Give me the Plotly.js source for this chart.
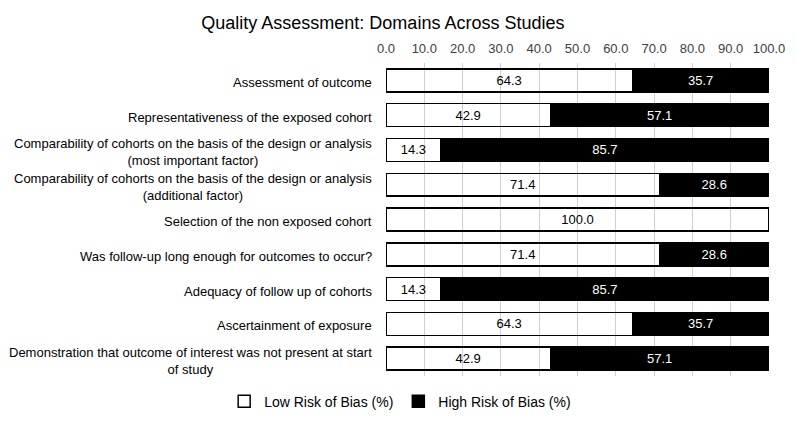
<!DOCTYPE html>
<html>
<head>
<meta charset="utf-8">
<script src="https://cdn.plot.ly/plotly-3.0.1.min.js"></script>
<style>html,body{margin:0;padding:0;background:#fff;}#chart{width:796px;height:430px;}</style>
</head>
<body>
<div id="chart"></div>
<script>
const categories = [
  "Assessment of outcome",
  "Representativeness of the exposed cohort",
  "Comparability of cohorts on the basis of the design or analysis<br>(most important factor)",
  "Comparability of cohorts on the basis of the design or analysis<br>(additional factor)",
  "Selection of the non exposed cohort",
  "Was follow-up long enough for outcomes to occur?",
  "Adequacy of follow up of cohorts",
  "Ascertainment of exposure",
  "Demonstration that outcome of interest was not present at start<br>of study"
];
const lowRisk  = [64.3, 42.9, 14.3, 71.4, 100.0, 71.4, 14.3, 64.3, 42.9];
const highRisk = [35.7, 57.1, 85.7, 28.6, 0.0, 28.6, 85.7, 35.7, 57.1];
const xTicks = [0,10,20,30,40,50,60,70,80,90,100];

const FONT = "'Liberation Sans', Arial, sans-serif";
const fmt = v => v > 0 ? v.toFixed(1) : "";

const traces = [
  {
    type: "bar", orientation: "h", name: "Low Risk of Bias (%)",
    y: categories, x: lowRisk,
    text: lowRisk.map(fmt), textposition: "inside", insidetextanchor: "middle",
    textfont: {family: FONT, size: 13, color: "#000"},
    marker: {color: "rgba(255,255,255,0)", line: {color: "#000", width: 1.5}},
    hoverinfo: "x+name"
  },
  {
    type: "bar", orientation: "h", name: "High Risk of Bias (%)",
    y: categories, x: highRisk,
    text: highRisk.map(fmt), textposition: "inside", insidetextanchor: "middle",
    textfont: {family: FONT, size: 13, color: "#fff"},
    marker: {color: "#000", line: {color: "#000", width: 1.5}},
    hoverinfo: "x+name"
  }
];

const annotations = categories.map(c => ({
  xref: "paper", yref: "y", x: -0.031, y: c,
  xanchor: "right", yanchor: "middle", align: "center",
  text: c, showarrow: false, yshift: -2,
  font: {family: FONT, size: 13, color: "#000"}
}));

const layout = {
  width: 796, height: 430,
  margin: {l: 386, r: 27, t: 63, b: 46},
  paper_bgcolor: "#fff", plot_bgcolor: "#fff",
  barmode: "stack", bargap: 0.34,
  title: {text: "Quality Assessment: Domains Across Studies", x: 0.481, xanchor: "center", y: 0.948, yanchor: "middle",
          font: {family: FONT, size: 18, color: "#000"}},
  xaxis: {
    side: "top", range: [0, 100], tickvals: xTicks, ticktext: xTicks.map(v => v.toFixed(1)),
    showgrid: true, gridcolor: "#cfcfcf", gridwidth: 1, zeroline: false, showline: false,
    ticks: "", ticklabelstandoff: 6, tickfont: {family: FONT, size: 13, color: "#404040"}, fixedrange: true
  },
  yaxis: {
    autorange: "reversed", showticklabels: false, ticks: "", showgrid: false,
    zeroline: false, showline: false, fixedrange: true
  },
  annotations: annotations,
  showlegend: true,
  legend: {orientation: "h", x: 0.037, xanchor: "center",
           y: -0.082, yanchor: "middle",
           font: {family: FONT, size: 14, color: "#000"}, traceorder: "normal",
           itemwidth: 30},
  font: {family: FONT}
};

Plotly.newPlot("chart", traces, layout, {displayModeBar: false, staticPlot: true});
</script>
</body>
</html>
